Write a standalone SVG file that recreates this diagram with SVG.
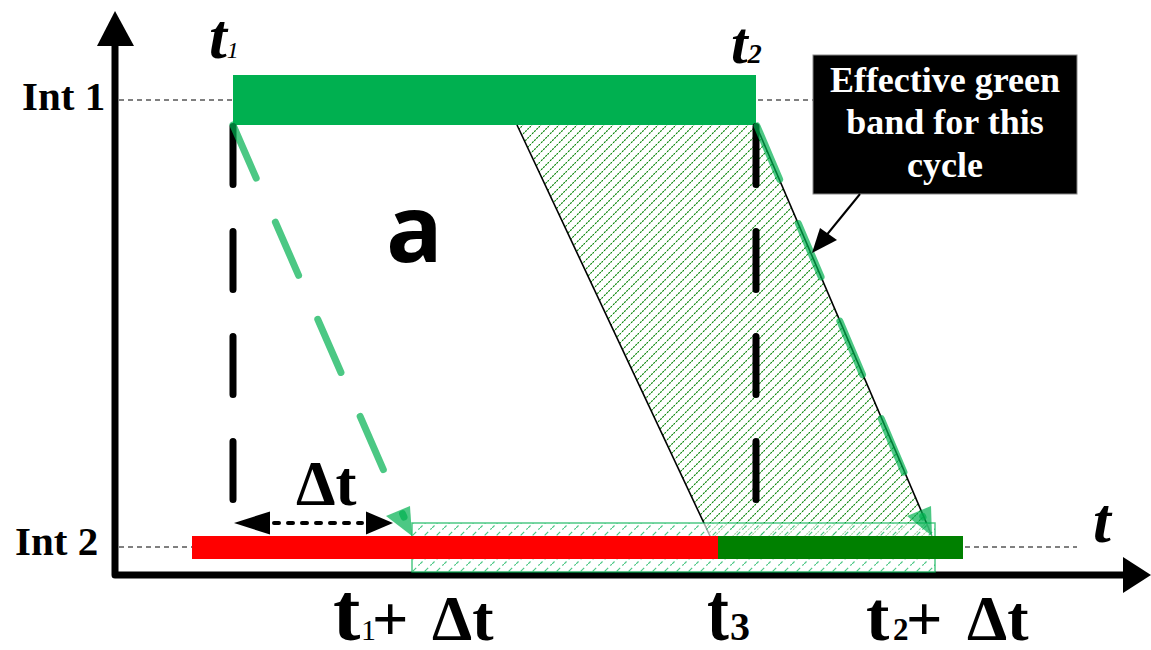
<svg xmlns="http://www.w3.org/2000/svg" width="1151" height="650" viewBox="0 0 1151 650">
<style>
.serif{font-family:"Liberation Serif","Times New Roman",serif;font-weight:bold;fill:#000}
.ital{font-style:italic}
.guide{stroke:#000;stroke-width:1;stroke-dasharray:5 4;fill:none}
.bdash{stroke:#000;stroke-width:7;stroke-linecap:round;stroke-dasharray:58 47;fill:none}
.gdash{stroke:#00B050;stroke-opacity:0.7;stroke-width:7;stroke-linecap:round;stroke-dasharray:58 48;fill:none}
.garrow{fill:#00B050;fill-opacity:0.7}
.edge{stroke:#000;stroke-width:1.6;fill:none}
.call{font-family:"Liberation Serif","Times New Roman",serif;font-weight:bold;font-size:36px;fill:#fff}
</style>
<defs>
<pattern id="hatchDark" patternUnits="userSpaceOnUse" width="9" height="9">
<line x1="-1" y1="10" x2="10" y2="-1" stroke="#008000" stroke-width="1.1" stroke-dasharray="2 1"/>
</pattern>
<pattern id="hatchLight" patternUnits="userSpaceOnUse" width="12" height="12">
<line x1="-1" y1="13" x2="13" y2="-1" stroke="#00B050" stroke-opacity="0.7" stroke-width="1.2" stroke-dasharray="5 3"/>
</pattern>
</defs>
<rect width="1151" height="650" fill="#fff"/>

<g id="guides">
<line class="guide" x1="119" y1="100" x2="1077" y2="100"/>
<line class="guide" x1="119" y1="547" x2="1077" y2="547"/>
</g>

<g id="axes">
<polyline points="115,42 115,575 1126,575" fill="none" stroke="#000" stroke-width="7" stroke-linejoin="round"/>
<polygon points="115,11 97,46 134,46" fill="#000"/>
<polygon points="1151,575 1123,557 1123,593" fill="#000"/>
</g>

<g id="band-int1">
<rect x="233" y="75" width="523" height="50" fill="#00B050"/>
</g>

<g id="green-band-area">
<polygon points="517,125 756,125 932,536 710,536" fill="url(#hatchDark)"/>
<line class="edge" x1="517" y1="125" x2="710" y2="536"/>
<line class="edge" x1="756" y1="125" x2="932" y2="536"/>
</g>

<g id="connectors">
<line class="bdash" x1="233" y1="126.5" x2="233" y2="503"/>
<line class="bdash" x1="756" y1="126.5" x2="756" y2="500"/>
<line class="gdash" x1="233" y1="125" x2="404" y2="517"/>
<line class="gdash" x1="757" y1="126" x2="923" y2="517"/>
</g>

<g id="band-int2-shifted">
<rect x="412" y="523" width="523" height="49" fill="#fff" fill-opacity="0.65"/>
<rect x="412" y="523" width="523" height="49" fill="url(#hatchLight)" stroke="#00B050" stroke-opacity="0.7" stroke-width="1.5"/>
</g>

<g id="band-int2">
<rect x="192" y="536" width="526" height="23" fill="#FF0000"/>
<rect x="718" y="536" width="245" height="23" fill="#008000"/>
</g>

<g id="green-arrowheads">
<polygon class="garrow" points="412,536 386,516 410,506"/>
<polygon class="garrow" points="932,536 907,516 931,506"/>
</g>

<g id="delta-arrow">
<line x1="274" y1="523" x2="362" y2="523" stroke="#000" stroke-width="4" stroke-linecap="round" stroke-dasharray="5 9"/>
<polygon points="234,523 270,511.5 270,534.5" fill="#000"/>
<polygon points="393,523 366,511.5 366,534.5" fill="#000"/>
</g>

<g id="labels">
<text class="serif" x="22" y="110" font-size="41">Int 1</text>
<text class="serif" x="15" y="555" font-size="41">Int 2</text>
<text class="serif ital" x="209" y="58" font-size="64">t<tspan font-size="24" font-weight="normal">1</tspan></text>
<text class="serif ital" x="731" y="63" font-size="60">t<tspan font-size="28">2</tspan></text>
<text class="serif ital" x="1093" y="542" font-size="64">t</text>
<text x="386" y="262" font-family="'Open Sans','Noto Sans',sans-serif" font-weight="bold" font-size="94" fill="#000">a</text>
<text class="serif" x="296" y="505" font-size="63">Δt</text>
<text class="serif" y="640"><tspan x="333" font-size="82">t</tspan><tspan x="361" font-size="30" font-weight="normal">1</tspan><tspan x="372" font-size="64">+</tspan><tspan x="432" font-size="64">Δt</tspan></text>
<text class="serif" transform="translate(707,640) scale(0.8,1)" font-size="82">t</text>
<text class="serif" x="730" y="640" font-size="40">3</text>
<text class="serif" y="640"><tspan x="866" font-size="70">t</tspan><tspan x="893" font-size="31">2</tspan><tspan x="906" font-size="64">+</tspan><tspan x="967" font-size="64">Δt</tspan></text>
</g>

<g id="callout">
<rect x="813" y="55" width="264" height="139" fill="#000" stroke="#888" stroke-width="1"/>
<text class="call" x="945" y="92" text-anchor="middle">Effective green</text>
<text class="call" x="945" y="134" text-anchor="middle">band for this</text>
<text class="call" x="945" y="177" text-anchor="middle">cycle</text>
<line x1="860" y1="194" x2="825" y2="237" stroke="#000" stroke-width="2"/>
<polygon points="812,253 820,228 837,240" fill="#000"/>
</g>
</svg>
